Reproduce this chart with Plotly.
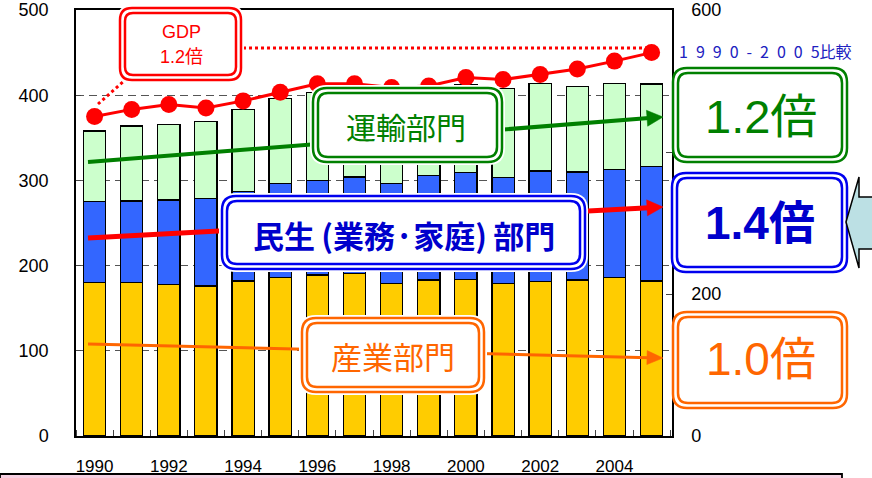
import math
import plotly.graph_objects as go

# ---------------- data ----------------
years = list(range(1990, 2006))
industry = [180, 180, 178, 176, 182, 186, 189, 191, 179, 183, 184, 179, 181, 183, 186, 182]   # 産業部門
civil = [95, 96, 99, 103, 105, 110, 111, 113, 117, 123, 125, 124, 130, 127, 127, 134]          # 民生部門
transport = [83, 88, 89, 90, 96, 100, 103, 100, 104, 98, 103, 105, 103, 100, 101, 97]         # 運輸部門
gdp = [450, 460, 467, 462, 472, 484, 496, 496, 491, 493, 505, 502, 509, 517, 528, 540]         # GDP (right axis)
x_tick_labels = [1990, 1992, 1994, 1996, 1998, 2000, 2002, 2004]
left_ticks = [0, 100, 200, 300, 400, 500]
right_ticks = [0, 200, 400, 600]

FONT = "Liberation Sans, Arial, Noto Sans CJK JP"
CJK = "Noto Sans CJK JP, Liberation Sans"

# plot area geometry (pixels) for decoration placement
L, T, W, H = 76, 10, 596, 426


def P(x, y):
    return (x - L) / W, (T + H - y) / H


def rrect_path(x0, y0, x1, y1, r):
    def p(x, y):
        a, b = P(x, y)
        return f"{a:.5f},{b:.5f}"
    return (f"M {p(x0 + r, y0)} L {p(x1 - r, y0)} Q {p(x1, y0)} {p(x1, y0 + r)} "
            f"L {p(x1, y1 - r)} Q {p(x1, y1)} {p(x1 - r, y1)} "
            f"L {p(x0 + r, y1)} Q {p(x0, y1)} {p(x0, y1 - r)} "
            f"L {p(x0, y0 + r)} Q {p(x0, y0)} {p(x0 + r, y0)} Z")


def poly_path(pts):
    s = []
    for i, (x, y) in enumerate(pts):
        a, b = P(x, y)
        s.append(("M " if i == 0 else "L ") + f"{a:.5f},{b:.5f}")
    return " ".join(s) + " Z"


shapes = []


def line_px(x0, y0, x1, y1, color, width, dash="solid"):
    a0, b0 = P(x0, y0)
    a1, b1 = P(x1, y1)
    shapes.append(dict(type="line", xref="paper", yref="paper", x0=a0, y0=b0, x1=a1, y1=b1,
                       line=dict(color=color, width=width, dash=dash), layer="above"))


def arrow_px(x0, y0, x1, y1, color, width, hl, hw):
    dx, dy = x1 - x0, y1 - y0
    ln = math.hypot(dx, dy)
    ux, uy = dx / ln, dy / ln
    bx, by = x1 - ux * hl, y1 - uy * hl
    nx, ny = -uy, ux
    line_px(x0, y0, bx + ux * 2, by + uy * 2, color, width)
    shapes.append(dict(type="path", xref="paper", yref="paper",
                       path=poly_path([(x1, y1), (bx + nx * hw, by + ny * hw), (bx - nx * hw, by - ny * hw)]),
                       fillcolor=color, line=dict(color=color, width=0.5), layer="above"))


def box_px(x0, y0, x1, y1, color, r=14, halo=True):
    if halo:
        shapes.append(dict(type="path", xref="paper", yref="paper",
                           path=rrect_path(x0 - 3, y0 - 3, x1 + 3, y1 + 3, r + 3),
                           fillcolor="white", line=dict(width=0), layer="above"))
    shapes.append(dict(type="path", xref="paper", yref="paper",
                       path=rrect_path(x0, y0, x1, y1, r),
                       fillcolor="white", line=dict(color=color, width=2.5), layer="above"))
    shapes.append(dict(type="path", xref="paper", yref="paper",
                       path=rrect_path(x0 + 5, y0 + 5, x1 - 5, y1 - 5, r - 4),
                       fillcolor="white", line=dict(color=color, width=2.5), layer="above"))


# GDP dotted guides
line_px(243, 48, 652, 48, "#FF0000", 3, "dot")
line_px(98, 104, 125, 80, "#FF0000", 3, "dot")

# trend arrows (behind the labels' boxes)
arrow_px(88, 162, 663, 117, "#008000", 4, 16, 8)
arrow_px(88, 238, 663, 207, "#FF0000", 5, 16, 8)
arrow_px(88, 344, 663, 358, "#FF6600", 3, 16, 7)

# boxes
box_px(120, 8, 241, 80, "#FF0000", r=12)
box_px(313, 88, 502, 162, "#008000")
box_px(222, 196, 585, 269, "#0000EE")
box_px(302, 318, 484, 392, "#FF6600")
box_px(673, 68, 847, 162, "#008000", halo=False)
box_px(672, 173, 847, 272, "#0000EE", halo=False)
box_px(673, 312, 847, 408, "#FF6600", halo=False)

# light blue block arrow on the right edge
shapes.append(dict(type="path", xref="paper", yref="paper",
                   path=poly_path([(880, 197), (859, 197), (859, 177), (846, 222),
                                   (859, 268), (859, 249), (880, 249)]),
                   fillcolor="#BCE0E4", line=dict(color="black", width=1.5), layer="above"))

# slide bottom band
a0, b0 = P(0, 474)
a1, b1 = P(842, 492)
shapes.append(dict(type="rect", xref="paper", yref="paper", x0=a0, y0=b0, x1=a1, y1=b1,
                   fillcolor="#F7D0E2", line=dict(color="black", width=1.8), layer="above"))

annotations = []


def text_px(x, y, s, size, color, bold=False, family=CJK):
    a, b = P(x, y)
    if bold:
        s = f"<b>{s}</b>"
    annotations.append(dict(xref="paper", yref="paper", x=a, y=b, text=s, showarrow=False,
                            xanchor="center", yanchor="middle",
                            font=dict(size=size, color=color, family=family)))


text_px(181, 32, "GDP", 18, "#FF0000", family=FONT)
text_px(181, 57, "1.2倍", 18, "#FF0000", family=FONT)
text_px(406, 126, "運輸部門", 30, "#008000")
text_px(404, 234, "民生\u2009(業務·家庭)\u2009部門", 31, "#0000CC", bold=True)
text_px(393, 355, "産業部門", 31, "#FF6600")
text_px(761, 117, "1.2倍", 47, "#008000", family=FONT)
text_px(760, 223, "1.4倍", 46, "#0000CC", bold=True, family=FONT)
text_px(761, 359, "1.0倍", 46, "#FF6600", family=FONT)
text_px(765, 51, "1\u20029\u20029\u20020\u2002-\u20022\u20020\u20020\u20025比較", 16, "#2020C0")

fig = go.Figure()
fig.add_trace(go.Bar(x=years, y=industry, name="産業部門", width=0.6,
                     marker=dict(color="#FFCC00", line=dict(color="black", width=1.3))))
fig.add_trace(go.Bar(x=years, y=civil, name="民生部門", width=0.6,
                     marker=dict(color="#3366FF", line=dict(color="black", width=1.3))))
fig.add_trace(go.Bar(x=years, y=transport, name="運輸部門", width=0.6,
                     marker=dict(color="#CCFFCC", line=dict(color="black", width=1.3))))
fig.add_trace(go.Scatter(x=years, y=gdp, yaxis="y2", mode="lines+markers", name="GDP",
                         line=dict(color="#FF0000", width=3),
                         marker=dict(color="#FF0000", size=17)))

fig.update_layout(
    width=872, height=478,
    margin=dict(l=L, r=872 - L - W, t=T, b=478 - T - H, autoexpand=False),
    paper_bgcolor="white", plot_bgcolor="white",
    barmode="stack", showlegend=False,
    font=dict(family=FONT, color="black"),
    xaxis=dict(range=[1989.5, 2005.55], tickmode="array", tickvals=x_tick_labels,
               ticktext=[str(v) for v in x_tick_labels], ticks="", showgrid=False,
               showline=True, linecolor="black", linewidth=1.5, mirror=True, zeroline=False,
               tickfont=dict(size=17), ticklabelstandoff=14, automargin=False,
               ticklabeloverflow="allow",
               minor=dict(tickmode="linear", tick0=1989.5, dtick=1, ticks="inside",
                          ticklen=6, tickcolor="#444", showgrid=False)),
    yaxis=dict(range=[0, 500], tickmode="array", tickvals=left_ticks, ticks="inside", ticklen=5,
               showgrid=True, gridcolor="#555", griddash="8px,5px", gridwidth=1,
               showline=True, linecolor="black", linewidth=1.5, mirror=True, zeroline=False,
               tickfont=dict(size=18), ticklabelstandoff=22, automargin=False,
               ticklabeloverflow="allow"),
    yaxis2=dict(range=[0, 600], overlaying="y", side="right", tickmode="array",
                tickvals=right_ticks, ticks="inside", ticklen=6, showgrid=False,
                showline=True, linecolor="black", linewidth=1.5, zeroline=False,
                tickfont=dict(size=18), ticklabelstandoff=14, automargin=False,
                ticklabeloverflow="allow"),
    shapes=shapes, annotations=annotations,
)

fig.write_html("out.html", config={"displayModeBar": False},
               post_script="document.body.style.margin='0';document.body.style.overflow='hidden';")
